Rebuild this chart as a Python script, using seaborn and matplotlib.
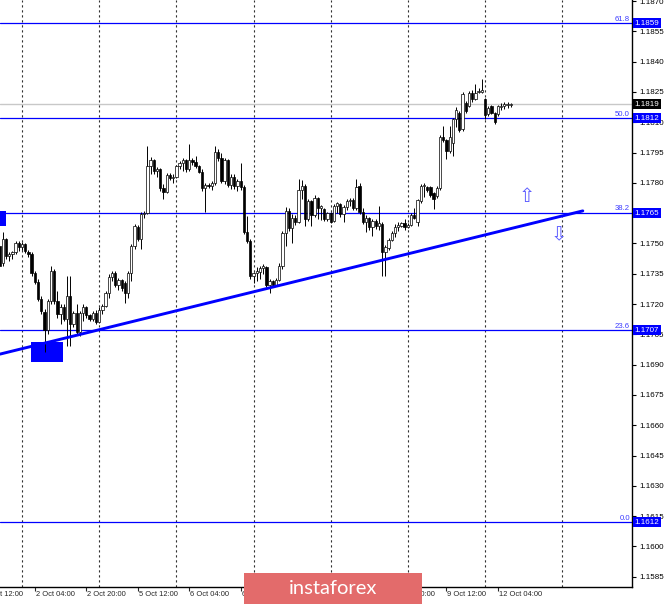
import numpy as np
import pandas as pd
import matplotlib
matplotlib.use("Agg")
import matplotlib.pyplot as plt
import matplotlib.transforms as mtransforms
from matplotlib.patches import Rectangle
import seaborn as sns

# EURUSD H1 candles, 1 Oct 17:00 .. 12 Oct 08:00
opens = [
    1.17488, 1.17405, 1.17521, 1.17438, 1.17447, 1.17455, 1.17501,
    1.17480, 1.17496, 1.17458, 1.17447, 1.17353, 1.17310, 1.17227, 1.17161, 1.17072, 1.17216,
    1.17364, 1.17216, 1.17150, 1.17183, 1.17128, 1.17240, 1.17100, 1.17155, 1.17059, 1.17155,
    1.17183, 1.17145, 1.17128, 1.17155, 1.17112, 1.17171, 1.17188, 1.17254, 1.17336, 1.17353,
    1.17293, 1.17320, 1.17303, 1.17254, 1.17353, 1.17485, 1.17579, 1.17524, 1.17645, 1.17650,
    1.17884, 1.17914, 1.17859, 1.17867, 1.17772, 1.17755, 1.17838, 1.17826, 1.17831, 1.17881,
    1.17900, 1.17914, 1.17867, 1.17914, 1.17904, 1.17881, 1.17854, 1.17772, 1.17788, 1.17782,
    1.17798, 1.17953, 1.17925, 1.17810, 1.17914, 1.17788, 1.17831, 1.17785, 1.17810, 1.17777,
    1.17557, 1.17513, 1.17339, 1.17353, 1.17359, 1.17376, 1.17381, 1.17293, 1.17315, 1.17293,
    1.17320, 1.17386, 1.17551, 1.17661, 1.17574, 1.17628, 1.17607, 1.17765, 1.17785, 1.17623,
    1.17711, 1.17640, 1.17727, 1.17673, 1.17670, 1.17620, 1.17650, 1.17612, 1.17683, 1.17694,
    1.17645, 1.17678, 1.17711, 1.17716, 1.17673, 1.17785, 1.17656, 1.17607, 1.17628, 1.17579,
    1.17612, 1.17584, 1.17595, 1.17458, 1.17475, 1.17518, 1.17551, 1.17579, 1.17587, 1.17600,
    1.17579, 1.17592, 1.17640, 1.17607, 1.17711, 1.17782, 1.17777, 1.17777, 1.17749, 1.17735,
    1.17772, 1.18029, 1.18013, 1.17958, 1.17999, 1.18118, 1.18148, 1.18065, 1.18197, 1.18181,
    1.18244, 1.18217, 1.18250, 1.18250, 1.18214, 1.18140, 1.18178, 1.18148, 1.18140, 1.18173,
    1.18181, 1.18184, 1.18184,
]
highs = [
    1.17513, 1.17554, 1.17529, 1.17458, 1.17463, 1.17513, 1.17513,
    1.17508, 1.17504, 1.17468, 1.17455, 1.17364, 1.17323, 1.17240, 1.17174, 1.17224, 1.17389,
    1.17372, 1.17265, 1.17199, 1.17199, 1.17339, 1.17339, 1.17166, 1.17199, 1.17166, 1.17199,
    1.17188, 1.17150, 1.17166, 1.17171, 1.17183, 1.17199, 1.17265, 1.17348, 1.17364, 1.17364,
    1.17331, 1.17326, 1.17315, 1.17364, 1.17496, 1.17595, 1.17590, 1.17653, 1.17661, 1.17983,
    1.17930, 1.17920, 1.17876, 1.17871, 1.17793, 1.17851, 1.17851, 1.17843, 1.17887, 1.17909,
    1.17925, 1.17920, 1.17991, 1.17925, 1.17933, 1.17887, 1.17867, 1.17801, 1.17801, 1.17810,
    1.17983, 1.17966, 1.17950, 1.17925, 1.17917, 1.17843, 1.17843, 1.17821, 1.17900, 1.17788,
    1.17636, 1.17521, 1.17359, 1.17381, 1.17389, 1.17396, 1.17389, 1.17326, 1.17320, 1.17331,
    1.17402, 1.17562, 1.17678, 1.17673, 1.17645, 1.17640, 1.17818, 1.17815, 1.17793, 1.17722,
    1.17716, 1.17739, 1.17732, 1.17689, 1.17676, 1.17656, 1.17656, 1.17694, 1.17706, 1.17699,
    1.17689, 1.17722, 1.17726, 1.17727, 1.17818, 1.17798, 1.17673, 1.17640, 1.17633, 1.17623,
    1.17620, 1.17686, 1.17604, 1.17491, 1.17529, 1.17562, 1.17595, 1.17604, 1.17607, 1.17623,
    1.17603, 1.17650, 1.17673, 1.17722, 1.17793, 1.17798, 1.17782, 1.17785, 1.17755, 1.17782,
    1.18036, 1.18082, 1.18019, 1.18082, 1.18123, 1.18173, 1.18156, 1.18250, 1.18206, 1.18255,
    1.18260, 1.18288, 1.18267, 1.18316, 1.18222, 1.18178, 1.18184, 1.18151, 1.18184, 1.18197,
    1.18201, 1.18201, 1.18194,
]
lows = [
    1.17364, 1.17389, 1.17422, 1.17414, 1.17422, 1.17447, 1.17463,
    1.17468, 1.17452, 1.17435, 1.17339, 1.17298, 1.17216, 1.17150, 1.16960, 1.17051, 1.17199,
    1.17199, 1.17133, 1.17100, 1.17117, 1.16993, 1.16993, 1.17084, 1.17051, 1.17042, 1.17117,
    1.17133, 1.17117, 1.17117, 1.17100, 1.17105, 1.17150, 1.17183, 1.17232, 1.17315, 1.17282,
    1.17270, 1.17265, 1.17207, 1.17232, 1.17315, 1.17471, 1.17513, 1.17471, 1.17628, 1.17645,
    1.17843, 1.17843, 1.17831, 1.17760, 1.17719, 1.17749, 1.17815, 1.17801, 1.17826, 1.17867,
    1.17859, 1.17854, 1.17859, 1.17887, 1.17871, 1.17848, 1.17760, 1.17653, 1.17772, 1.17765,
    1.17788, 1.17909, 1.17798, 1.17793, 1.17777, 1.17768, 1.17768, 1.17760, 1.17765, 1.17546,
    1.17501, 1.17326, 1.17303, 1.17315, 1.17326, 1.17348, 1.17282, 1.17254, 1.17282, 1.17287,
    1.17315, 1.17372, 1.17488, 1.17562, 1.17504, 1.17590, 1.17600, 1.17719, 1.17587, 1.17612,
    1.17587, 1.17633, 1.17620, 1.17617, 1.17612, 1.17612, 1.17600, 1.17604, 1.17650, 1.17633,
    1.17604, 1.17666, 1.17683, 1.17666, 1.17666, 1.17645, 1.17595, 1.17554, 1.17567, 1.17537,
    1.17570, 1.17567, 1.17339, 1.17339, 1.17468, 1.17513, 1.17534, 1.17562, 1.17579, 1.17567,
    1.17574, 1.17587, 1.17620, 1.17587, 1.17699, 1.17732, 1.17755, 1.17732, 1.17669, 1.17727,
    1.17765, 1.18003, 1.17917, 1.17950, 1.17933, 1.18074, 1.18052, 1.18057, 1.18145, 1.18173,
    1.18201, 1.18211, 1.18244, 1.18244, 1.18115, 1.18132, 1.18140, 1.18090, 1.18132, 1.18161,
    1.18164, 1.18168, 1.18173,
]
closes = [
    1.17389, 1.17521, 1.17438, 1.17447, 1.17455, 1.17501, 1.17480,
    1.17496, 1.17463, 1.17447, 1.17353, 1.17310, 1.17227, 1.17166, 1.17072, 1.17216, 1.17364,
    1.17216, 1.17150, 1.17183, 1.17128, 1.17240, 1.17100, 1.17155, 1.17059, 1.17155, 1.17183,
    1.17145, 1.17128, 1.17155, 1.17112, 1.17171, 1.17188, 1.17254, 1.17336, 1.17353, 1.17293,
    1.17320, 1.17277, 1.17254, 1.17353, 1.17485, 1.17584, 1.17524, 1.17645, 1.17650, 1.17884,
    1.17914, 1.17859, 1.17867, 1.17772, 1.17755, 1.17838, 1.17826, 1.17831, 1.17881, 1.17900,
    1.17914, 1.17867, 1.17914, 1.17904, 1.17881, 1.17854, 1.17772, 1.17788, 1.17782, 1.17798,
    1.17953, 1.17925, 1.17810, 1.17914, 1.17788, 1.17831, 1.17785, 1.17810, 1.17777, 1.17557,
    1.17513, 1.17339, 1.17353, 1.17364, 1.17376, 1.17386, 1.17293, 1.17315, 1.17293, 1.17320,
    1.17386, 1.17551, 1.17661, 1.17574, 1.17628, 1.17607, 1.17765, 1.17785, 1.17623, 1.17711,
    1.17640, 1.17727, 1.17673, 1.17683, 1.17620, 1.17650, 1.17607, 1.17683, 1.17699, 1.17645,
    1.17678, 1.17711, 1.17716, 1.17673, 1.17777, 1.17656, 1.17607, 1.17628, 1.17579, 1.17612,
    1.17584, 1.17600, 1.17458, 1.17480, 1.17518, 1.17551, 1.17579, 1.17590, 1.17600, 1.17579,
    1.17592, 1.17640, 1.17628, 1.17716, 1.17782, 1.17788, 1.17765, 1.17739, 1.17719, 1.17772,
    1.18029, 1.18013, 1.17958, 1.18029, 1.18118, 1.18161, 1.18062, 1.18239, 1.18156, 1.18244,
    1.18214, 1.18244, 1.18255, 1.18260, 1.18135, 1.18168, 1.18148, 1.18102, 1.18178, 1.18181,
    1.18188, 1.18189, 1.18190,
]

# fibo levels drawn on the chart
levels = [1.1859, 1.1812, 1.1765, 1.1707, 1.1612]
level_names = ["61.8", "50.0", "38.2", "23.6", "0.0"]
last_price = 1.1819

# drawn objects (bar index, price)
trend_bars = [-6.84, 174.4]
trend_prices = [1.16952, 1.17661]
box_bars = [[2.8, 12.75], [-6.9, -5.07]]
box_prices = [[1.16914, 1.17010], [1.17587, 1.17661]]
arrow_bars = [157.1, 167.0]
arrow_prices = [1.17732, 1.17544]
arrow_marks = ["\u21e7", "\u21e9"]

# hourly time axis, weekends skipped; position 0 = 2 Oct 00:00
hours = pd.date_range("2020-10-01 12:00", "2020-10-13 23:00", freq="h")
hours = hours[hours.dayofweek < 5]
pos = np.arange(len(hours)) - 12
first = 5
x = pos[first:first + len(closes)]

sns.set_style("white")
plt.rcParams["font.family"] = ["Liberation Sans", "DejaVu Sans"]

fig = plt.figure(figsize=(6.65, 6.04), dpi=100)
ax = fig.add_axes([0, 17 / 604, 632 / 665, 587 / 604])

o = np.array(opens)
h = np.array(highs)
l = np.array(lows)
c = np.array(closes)

# day separators
day_pos = pos[hours.hour == 0]
for d in day_pos:
    ax.axvline(d, color="#303030", lw=0.8, ls=(0, (2, 2.5)), zorder=0)

for lv in levels:
    ax.axhline(lv, color="#0000ff", lw=0.9, zorder=1)
ax.axhline(last_price, color="#c8c8c8", lw=1, zorder=1)

for bx, by in zip(box_bars, box_prices):
    ax.add_patch(Rectangle((bx[0], by[0]), bx[1] - bx[0], by[1] - by[0],
                           color="#0000ff", lw=0, zorder=1.5))

ax.vlines(x, l, h, color="black", lw=0.7, zorder=3)
up = c >= o
ax.bar(x, np.abs(c - o), bottom=np.minimum(o, c), width=0.72,
       color=np.where(up, "white", "black"), edgecolor="black",
       linewidth=0.5, zorder=4)

sns.lineplot(x=trend_bars, y=trend_prices, ax=ax, color="#0000ff", lw=2.1, zorder=5)

for ab, ap, am in zip(arrow_bars, arrow_prices, arrow_marks):
    ax.text(ab, ap, am, ha="center", va="center", color="#5c5cff",
            fontsize=14, family="DejaVu Sans", zorder=6)

ax.set_xlim(-6.84, 189.7)
ax.set_ylim(1.15799, 1.18705)

# y axis on the right
ax.yaxis.tick_right()
yt = np.arange(11585, 11871, 15) / 10000
ax.set_yticks(yt)
ax.set_yticklabels(["" if round(v, 4) in levels else f"{v:.4f}" for v in yt])
ax.tick_params(axis="y", length=3, width=0.8, direction="out", labelsize=5.8,
               pad=2, colors="black", right=True, left=False)

# x axis labels every 16 bars (the ones fully under the watermark are hidden)
lab_idx = [k for k in range(len(hours)) if k % 16 == 0 and pos[k] <= x[-1]]
ax.set_xticks([pos[k] for k in lab_idx if pos[k] > -6.84])
ax.tick_params(axis="x", length=3, width=0.8, direction="out",
               labelbottom=False, bottom=True)
trans = mtransforms.blended_transform_factory(ax.transData, ax.transAxes)
for k in lab_idx:
    if 80 <= pos[k] <= 100:
        continue
    t = hours[k]
    ax.text(pos[k] + 0.3, -0.007, f"{t.day} {t:%b %H:%M}", transform=trans,
            ha="left", va="top", fontsize=5.4, clip_on=False)

for s in ["top", "left"]:
    ax.spines[s].set_visible(False)
for s in ["right", "bottom"]:
    ax.spines[s].set_color("black")
    ax.spines[s].set_linewidth(1)

ytrans = mtransforms.blended_transform_factory(ax.transAxes, ax.transData)
for lv, nm in zip(levels, level_names):
    ax.text(0.997, lv + 0.00003, nm, transform=ytrans, ha="right", va="bottom",
            color="#3c3cff", fontsize=5.6)
    ax.text(1.004, lv, f"{lv:.4f}", transform=ytrans, ha="left", va="center",
            color="white", fontsize=5.8, clip_on=False, zorder=7,
            bbox=dict(boxstyle="square,pad=0.2", fc="#0000ff", ec="none"))
ax.text(1.004, last_price, f"{last_price:.4f}", transform=ytrans, ha="left",
        va="center", color="white", fontsize=5.8, clip_on=False, zorder=7,
        bbox=dict(boxstyle="square,pad=0.2", fc="black", ec="none"))

# watermark
fig.add_artist(Rectangle((244 / 665, 0), 178 / 665, 31 / 604,
                         transform=fig.transFigure, fc="#e36b6b", ec="none",
                         zorder=10))
fig.text(333 / 665, 15 / 604, "instaforex", ha="center", va="center",
         color="white", fontsize=14.5, family=["Lato", "DejaVu Sans"],
         zorder=11)

fig.savefig("out.png", dpi=100)
